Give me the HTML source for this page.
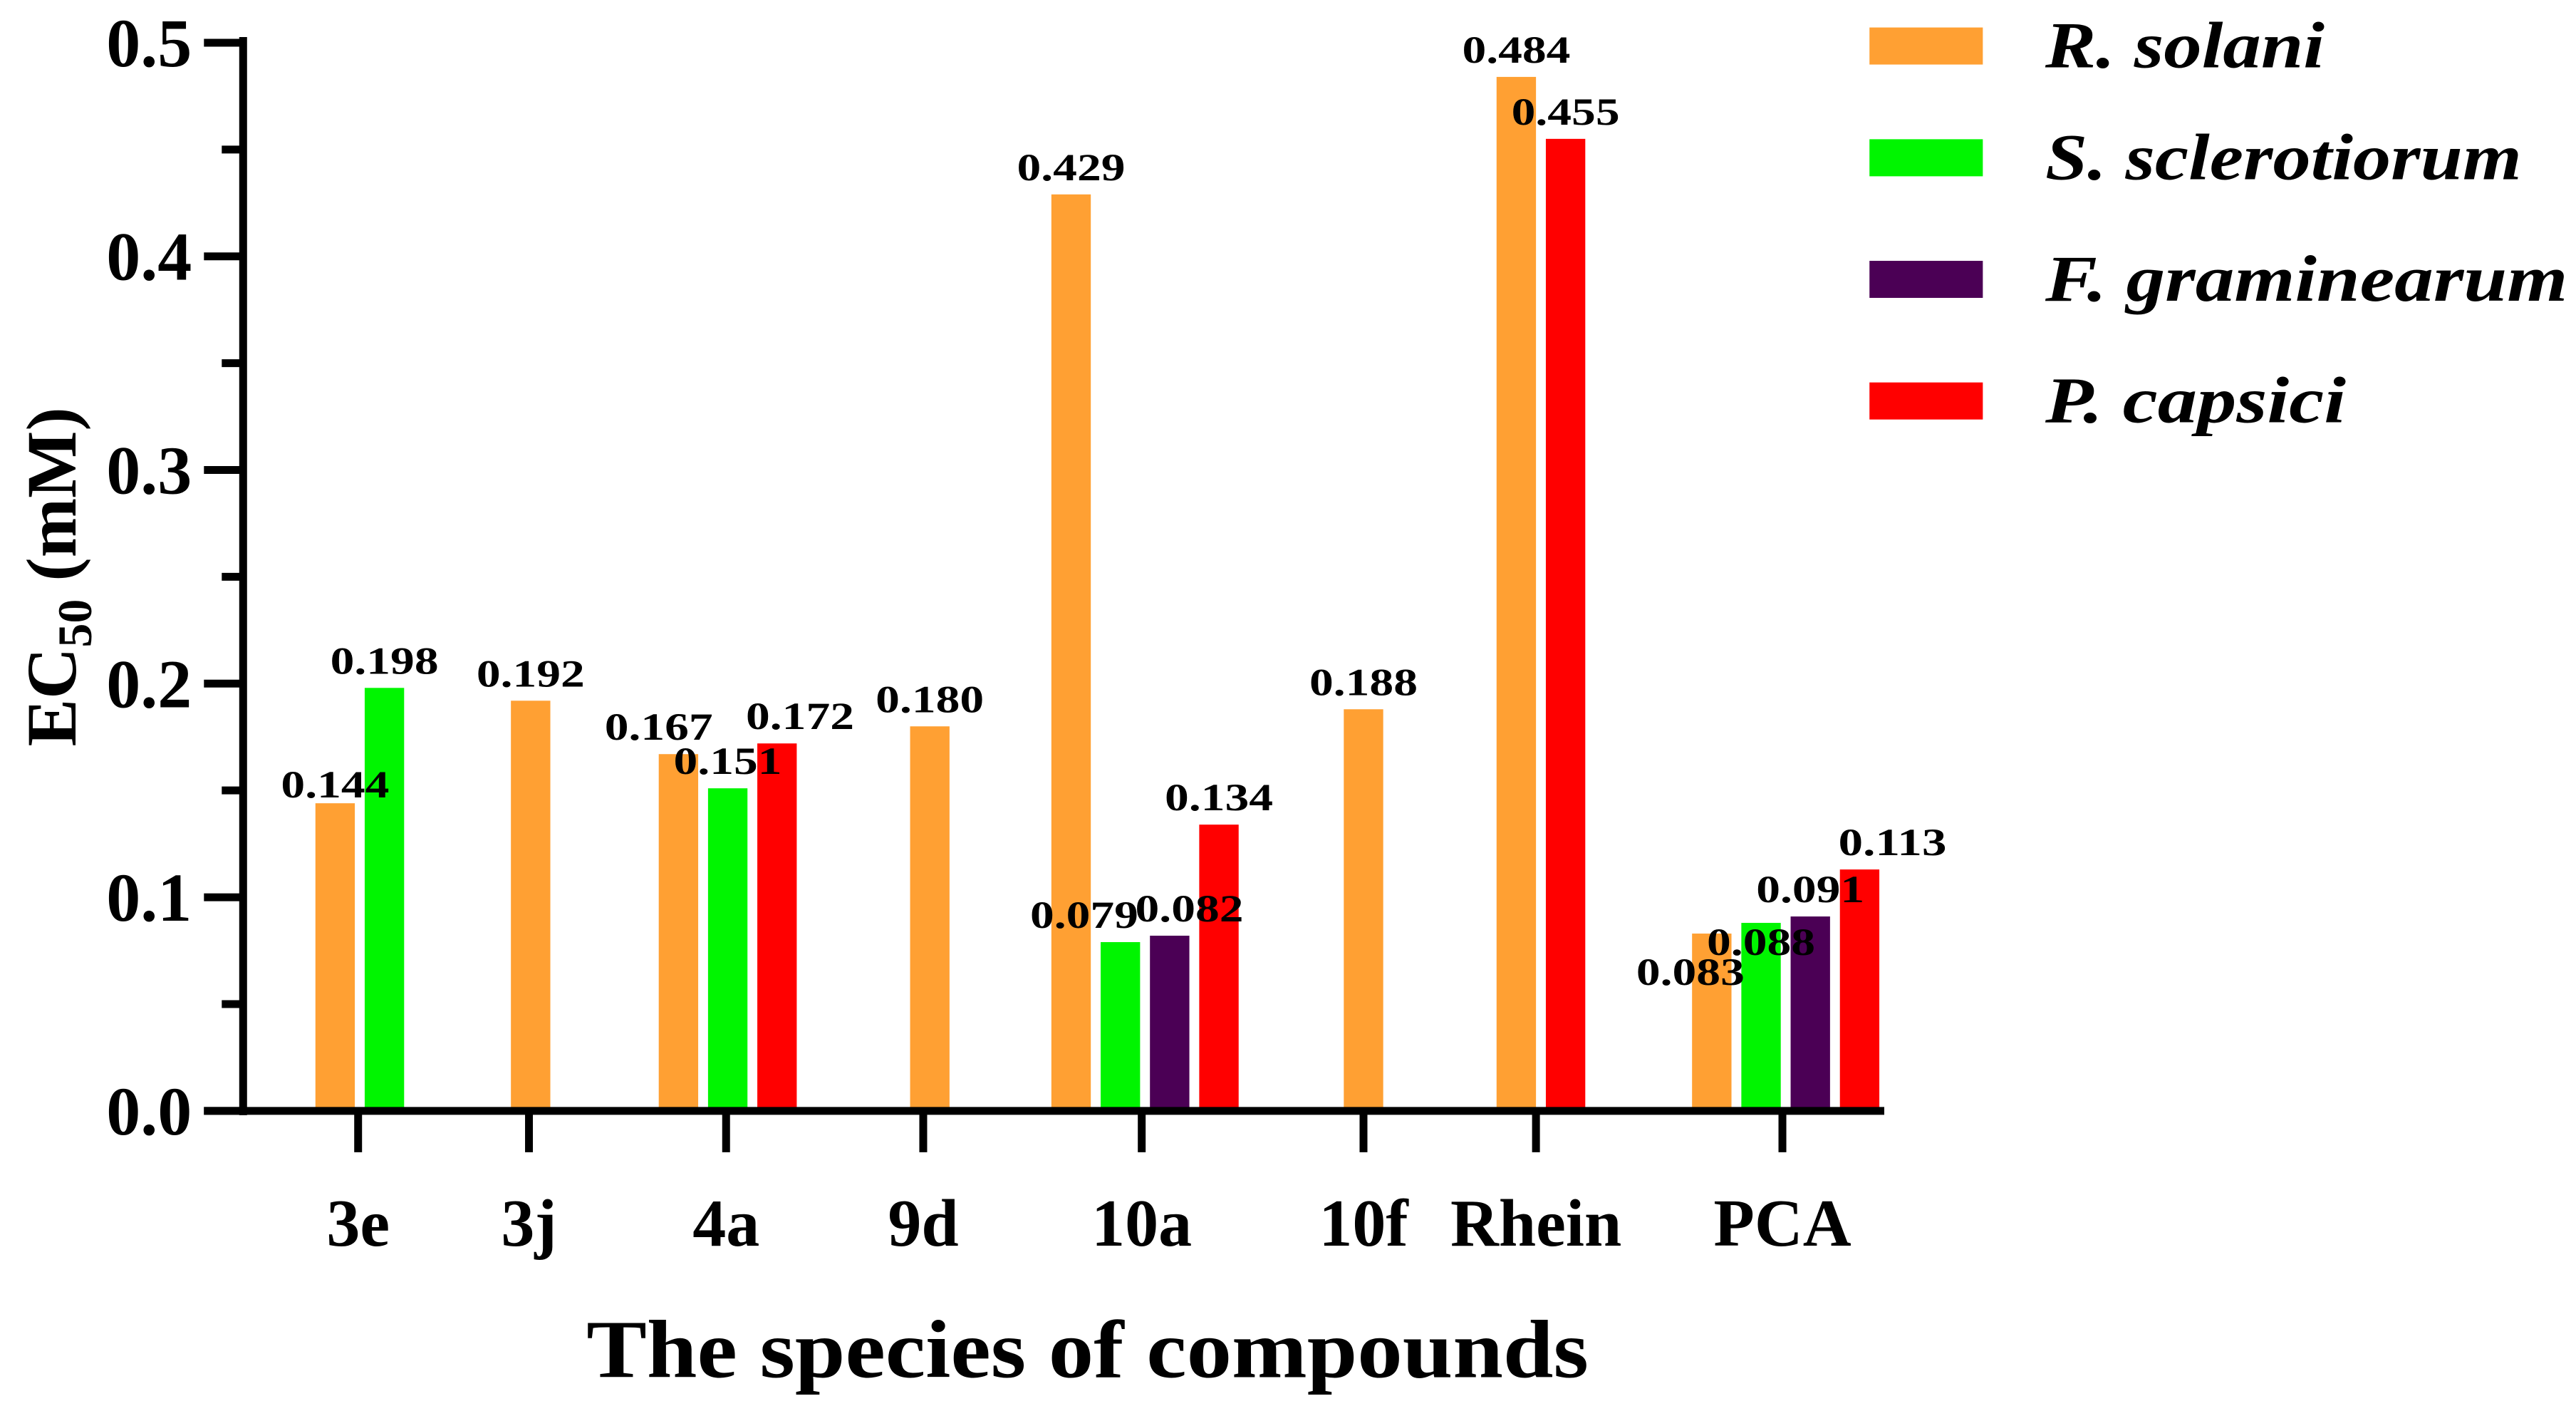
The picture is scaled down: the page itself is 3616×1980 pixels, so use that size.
<!DOCTYPE html>
<html><head><meta charset="utf-8"><style>
html,body{margin:0;padding:0;background:#fff;}
svg{display:block;}
text{font-family:"Liberation Serif",serif;font-weight:bold;fill:#000;}
</style></head><body>
<svg id="chart" width="3616" height="1980" viewBox="0 0 3616 1980" xmlns="http://www.w3.org/2000/svg"></svg>
<script>
const categories = ["3e","3j","4a","9d","10a","10f","Rhein","PCA"];
const seriesNames = ["R. solani","S. sclerotiorum","F. graminearum","P. capsici"];
const rSolani = [0.144,0.192,0.167,0.180,0.429,0.188,0.484,0.083];
const sSclerotiorum = [0.198,null,0.151,null,0.079,null,null,0.088];
const fGraminearum = [null,null,null,null,0.082,null,null,0.091];
const pCapsici = [null,null,0.172,null,0.134,null,0.455,0.113];
const yTicks = [0.0,0.1,0.2,0.3,0.4,0.5];
const yTickLabels = ["0.0","0.1","0.2","0.3","0.4","0.5"];

const S = 2.306;
const colors = ["#FFA033","#00F500","#4B0055","#FF0000"];
const series = [rSolani,sSclerotiorum,fGraminearum,pCapsici];
const svg = document.getElementById('chart');
const NS = "http://www.w3.org/2000/svg";
function mk(tag, attrs, parent){const e=document.createElementNS(NS,tag);for(const k in attrs)e.setAttribute(k,attrs[k]);(parent||svg).appendChild(e);return e;}

const x0 = 148*S, yZero = 676*S, yTop = 26*S, xEnd = 1147*S;
function yScale(v){return yZero - v/0.5*(yZero-yTop);}
// categorical layout (group start / tick positions, preview px)
const groupStart = [192,311,401,554,640,818,911,1030];
const tickPos = [218,322,442,562,695,830,935,1085];
const barW = 24*S, slot = 30*S;
// label nudges (preview px) keyed "category-seriesIndex"
const labelShift = {"4a-0":[-12,0],"4a-3":[14,0],"10a-1":[-22,0],"10a-2":[12,0],"PCA-3":[20,0]};

const barLayer = mk('g',{});


const labelLayer = mk('g',{});



for(let g=0; g<categories.length; g++){
  let k=0;
  for(let s=0; s<series.length; s++){
    const v = series[s][g];
    if(v===null||v===undefined) continue;
    const x = groupStart[g]*S + k*slot;
    const y = yScale(v);
    const r = mk('rect',{x:x,y:y,width:barW,height:yZero-y,fill:colors[s]},barLayer);
    
    
    let lx = x+barW/2, ly = y-20;
    if(categories[g]==="PCA" && s===0){lx -= 30; ly = y+72;}
    if(categories[g]==="PCA" && s===1){ly = y+45;}
    if(categories[g]==="3e" && s===0){ly = y-8;}
    const sh = labelShift[categories[g]+'-'+s];
    if(sh){lx += sh[0]*S; ly += sh[1]*S;}
    const t = mk('text',{x:lx,y:ly,'font-size':54,'text-anchor':'middle',textLength:152,lengthAdjust:'spacingAndGlyphs'},labelLayer);
    t.textContent = v.toFixed(3);
    
    
    k++;
  }
}

// y axis
const ya = mk('line',{x1:x0,y1:yTop-8,x2:x0,y2:yZero+6,stroke:'#000','stroke-width':11});


for(let i=0;i<yTicks.length;i++){
  const y = yScale(yTicks[i]);
  const tk = mk('line',{x1:x0-55,y1:y,x2:x0,y2:y,stroke:'#000','stroke-width':11});
  
  
  const lb = mk('text',{x:x0-72,y:y+33,'font-size':96,'text-anchor':'end'});
  lb.textContent = yTickLabels[i];
  
  
  if(i<yTicks.length-1){
    const ym = yScale(yTicks[i]+0.05);
    const mt = mk('line',{x1:x0-30,y1:ym,x2:x0,y2:ym,stroke:'#000','stroke-width':11});
    
    
  }
}
// x axis
const xa = mk('line',{x1:x0-55,y1:yZero,x2:xEnd,y2:yZero,stroke:'#000','stroke-width':11});


for(let g=0; g<categories.length; g++){
  const x = tickPos[g]*S;
  const tk = mk('line',{x1:x,y1:yZero,x2:x,y2:yZero+58,stroke:'#000','stroke-width':11});
  
  
  const lb = mk('text',{x:x,y:758*S,'font-size':94,'text-anchor':'middle'});
  lb.textContent = categories[g];
  
  
}
// titles
const xt = mk('text',{x:662*S,y:838*S,'font-size':116,'text-anchor':'middle',textLength:610*S,lengthAdjust:'spacingAndGlyphs'});
xt.textContent = "The species of compounds";


const yt = mk('text',{x:0,y:0,'font-size':100,'text-anchor':'middle',transform:'translate('+(46*S)+','+(351*S)+') rotate(-90)'});
yt.innerHTML = 'EC<tspan font-size="68" dy="22">50</tspan><tspan dy="-22" font-size="100"> (mM)</tspan>';



// legend
const legY = [28,96,170,244];
const legW = [170,290,318,183];
for(let s=0;s<seriesNames.length;s++){
  const cy = legY[s]*S;
  const sw = mk('rect',{x:1138*S,y:cy-26,width:69*S,height:52,fill:colors[s]});
  
  
  const t = mk('text',{x:1245*S,y:cy+30,'font-size':92,'font-style':'italic',textLength:legW[s]*S,lengthAdjust:'spacingAndGlyphs'});
  t.textContent = seriesNames[s];
  
  
}
</script>
</body></html>
